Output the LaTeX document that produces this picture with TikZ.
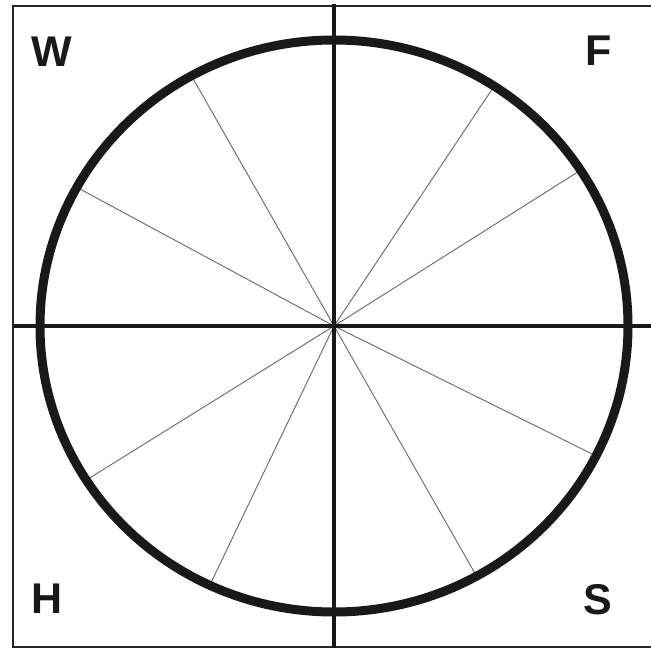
\documentclass[tikz,border=0pt]{standalone}
\usepackage{fontspec}
\setmainfont{Liberation Sans}
\usetikzlibrary{calc}
\begin{document}
\begin{tikzpicture}[x=1pt,y=-1pt,
  frameline/.style={line width=2pt,draw=black!85},
  axisline/.style={line width=3.2pt,draw=black!90},
  spoke/.style={line width=0.9pt,draw=black!60},
  rim/.style={line width=9pt,draw=black!90},
  corner/.style={font=\fontsize{43}{43}\selectfont\bfseries,text=black!90,inner sep=0pt}]
\useasboundingbox (0,0) rectangle (651,648);
\coordinate (c) at (334,326);
% frame
\draw[frameline] (651,6) -- (13,6) -- (13,647) -- (651,647);
% spokes
\foreach \t [count=\i] in {119,151,57,33,-27,-61,212.6,245}{
  \coordinate (p\i) at ($(c)+({294*cos(\t)},{-286*sin(\t)})$);
  \draw[spoke] (c) -- (p\i);
}
% axes
\draw[axisline] (13,326) -- (651,326);
\draw[axisline] (334,4) -- (334,648);
% rim
\draw[rim] (c) ellipse [x radius=294, y radius=286];
% labels
\node[corner] (W) at (52,52) {W};
\node[corner] (F) at (599,51) {F};
\node[corner] (H) at (47,599) {H};
\node[corner] (S) at (598,600) {S};
\end{tikzpicture}
\end{document}
